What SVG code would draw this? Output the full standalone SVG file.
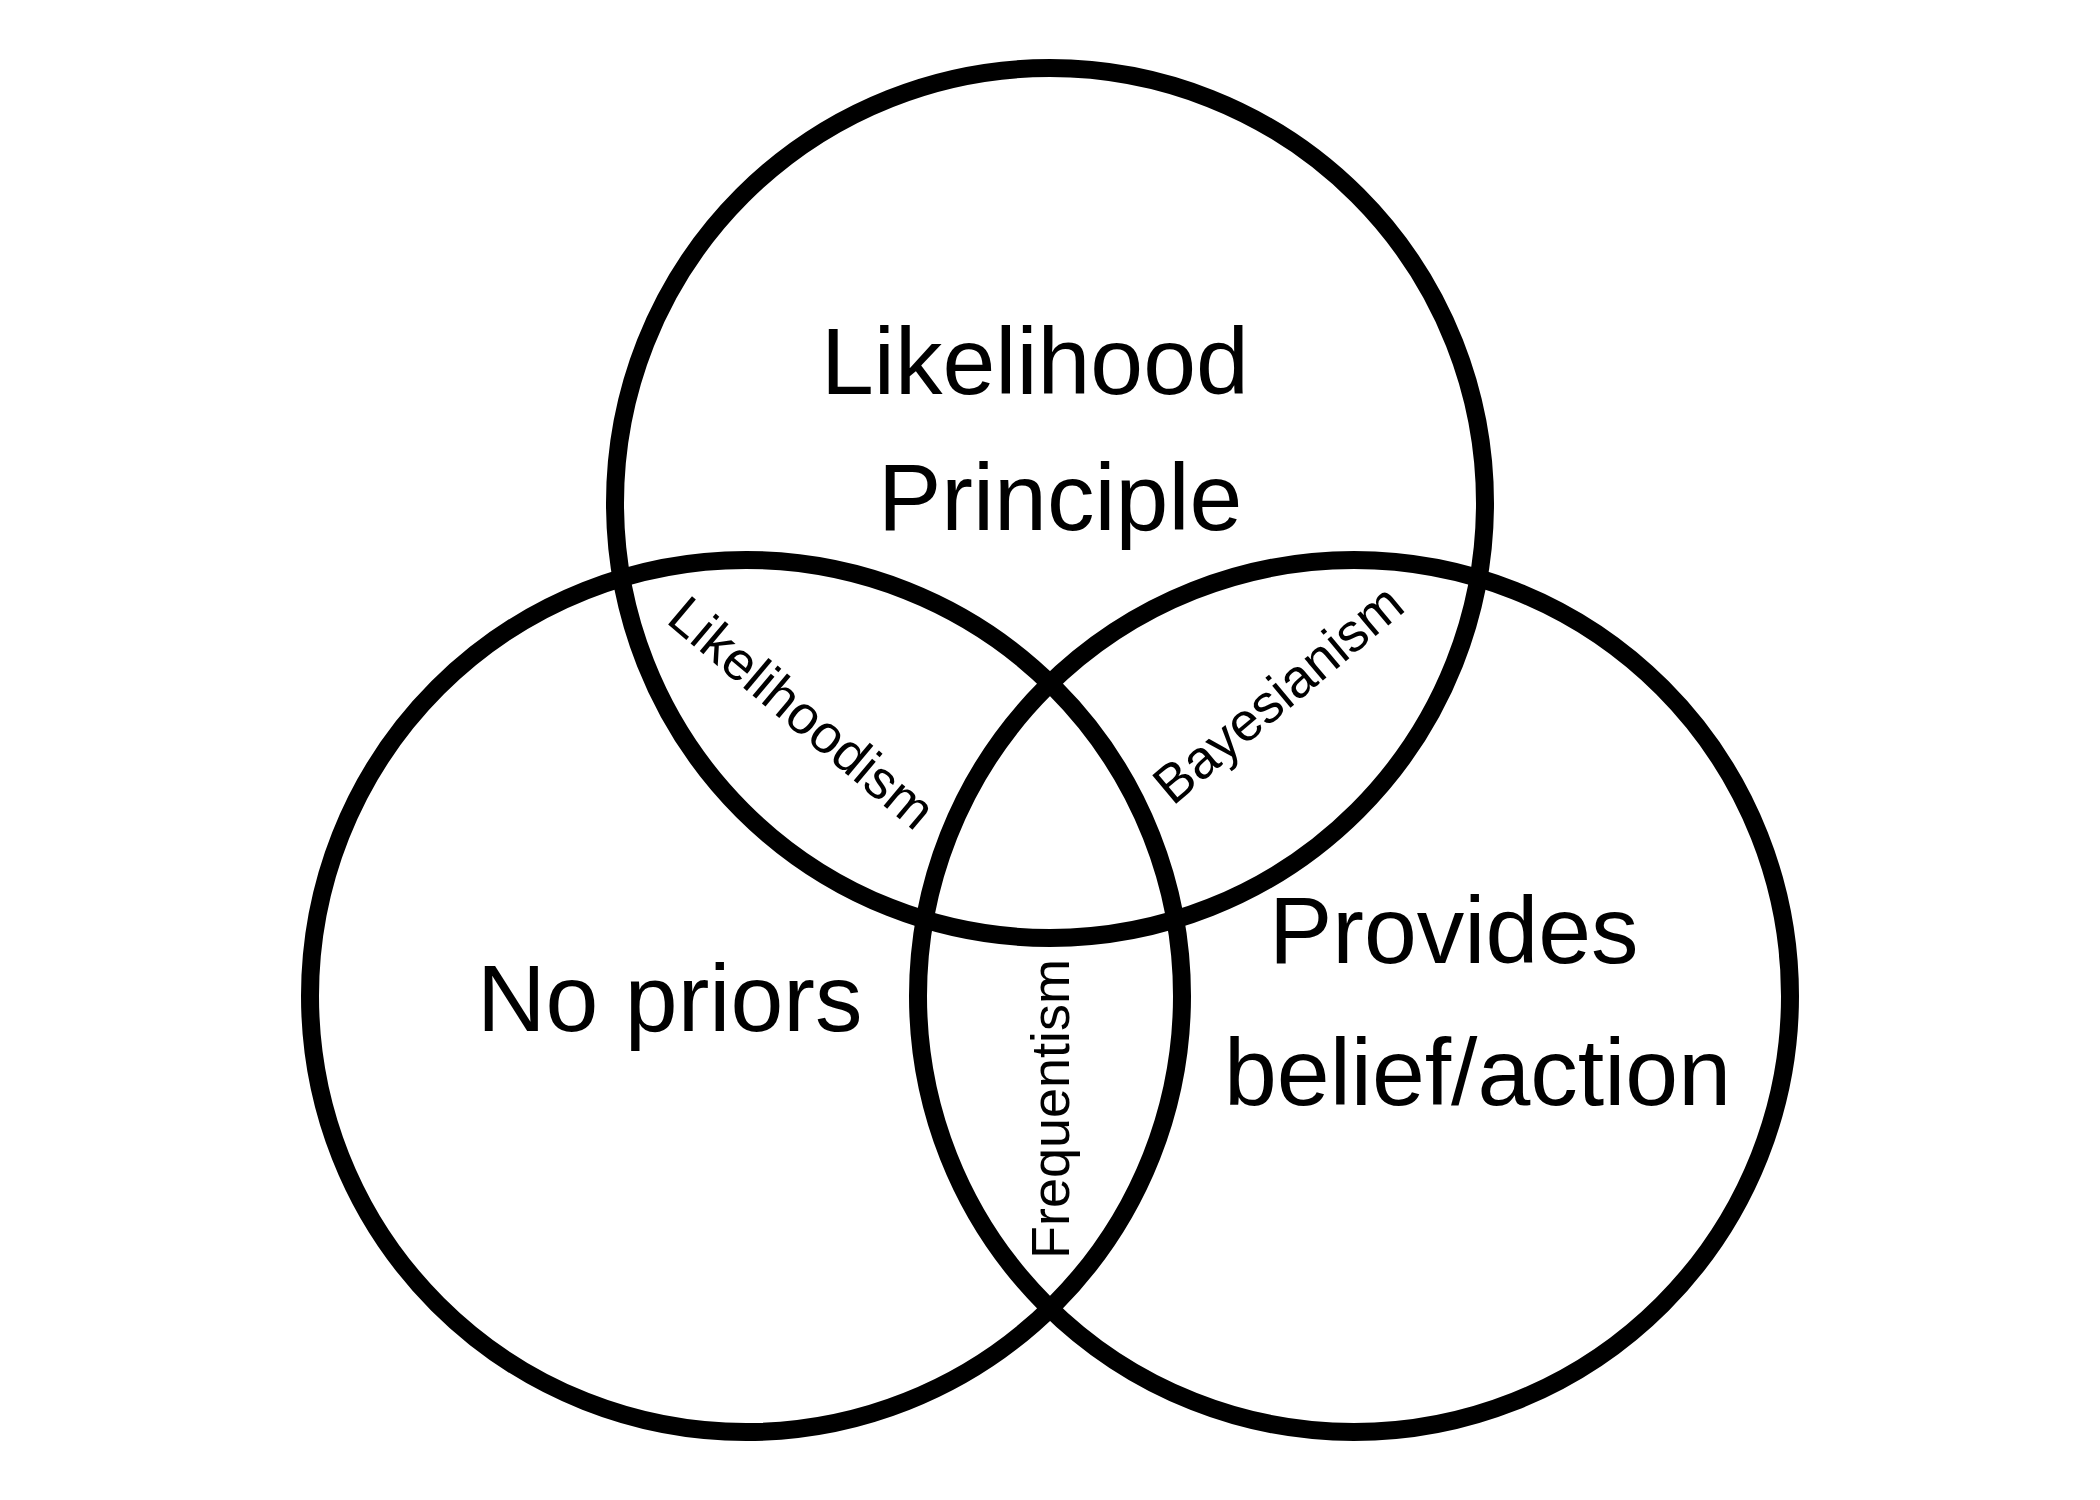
<svg xmlns="http://www.w3.org/2000/svg" width="2100" height="1500" viewBox="0 0 2100 1500">
<style>
.ring{fill:none;stroke:#000;stroke-width:18}
.big{font-family:"Liberation Sans",Arial,Helvetica,sans-serif;font-size:95px;fill:#000}
.small{font-family:"Liberation Sans",Arial,Helvetica,sans-serif;font-size:54px;fill:#000;text-anchor:middle}
</style>
<rect width="2100" height="1500" fill="#fff"/>
<g id="connectors"></g>
<g id="likelihood-principle">
<circle class="ring" cx="1050" cy="503" r="435"/>
<text class="big" x="821" y="394">Likelihood</text>
<text class="big" x="878" y="530">Principle</text>
</g>
<g id="no-priors">
<circle class="ring" cx="746" cy="996" r="436"/>
<text class="big" x="477" y="1031">No priors</text>
</g>
<g id="provides-belief">
<circle class="ring" cx="1354" cy="996" r="436"/>
<text class="big" x="1269" y="963">Provides</text>
<text class="big" x="1224" y="1105">belief/action</text>
</g>
<g id="likelihoodism">
<text class="small" transform="translate(790,727) rotate(40)">Likelihoodism</text>
</g>
<g id="bayesianism">
<text class="small" transform="translate(1290,708) rotate(-40)">Bayesianism</text>
</g>
<g id="frequentism">
<text class="small" transform="translate(1069,1109) rotate(-90)">Frequentism</text>
</g>
</svg>
